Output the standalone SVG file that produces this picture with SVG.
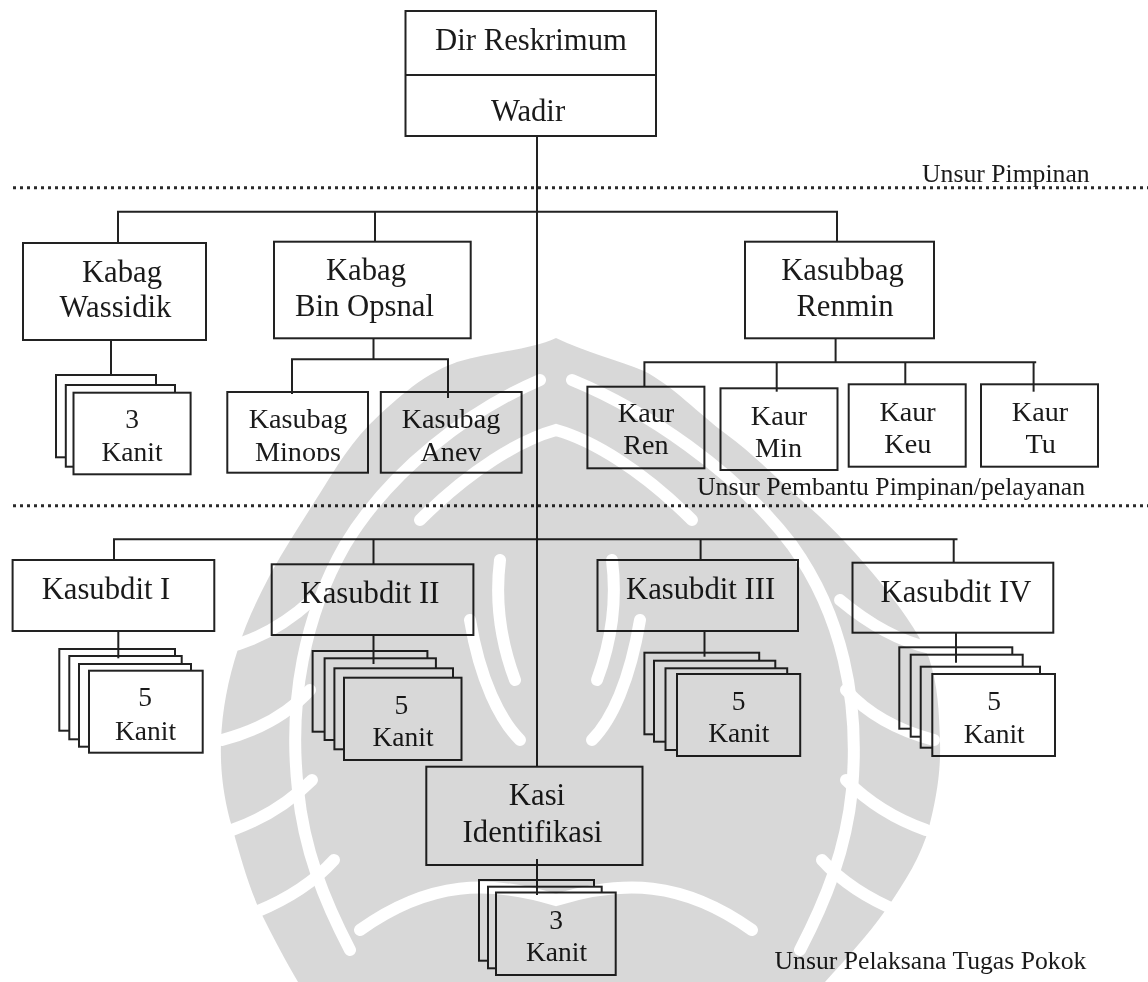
<svg xmlns="http://www.w3.org/2000/svg" width="1148" height="982" viewBox="0 0 1148 982">
<style>
.b{fill:#fff;stroke:#222;stroke-width:2}
.t{font-family:"Liberation Serif","Times New Roman",serif;font-size:30.7px;fill:#1a1a1a;text-anchor:middle}
.s{font-size:28.2px}
.k{font-size:27.5px}
.l{font-family:"Liberation Serif","Times New Roman",serif;font-size:25.7px;fill:#1a1a1a}
.c{fill:none;stroke:#222;stroke-width:2}
.d{fill:none;stroke:#2a2a2a;stroke-width:3;stroke-dasharray:3 4}
.wm{mix-blend-mode:multiply}
.g{fill:none;stroke:#fff;stroke-width:12;stroke-linecap:round}
</style>
<defs>
<clipPath id="clipMin"><rect x="220" y="390" width="160" height="71"/></clipPath>
<clipPath id="clipAnev"><rect x="375" y="390" width="150" height="71"/></clipPath>
</defs>
<rect width="1148" height="982" fill="#fff"/>

<g id="dir">
<rect class="b" x="405.5" y="11" width="250.5" height="125"/>
<line class="c" x1="405.5" y1="75" x2="656" y2="75"/>
<text class="t" x="531" y="50">Dir Reskrimum</text>
<text class="t" x="528" y="121">Wadir</text>
</g>

<g id="sep-labels">
<line class="d" x1="13" y1="187.7" x2="1148" y2="187.7"/>
<line class="d" x1="13" y1="505.7" x2="1148" y2="505.7"/>
<text class="l" x="922" y="181.5">Unsur Pimpinan</text>
<text class="l" x="697" y="495">Unsur Pembantu Pimpinan/pelayanan</text>
<text class="l" x="774.5" y="969">Unsur Pelaksana Tugas Pokok</text>
</g>

<g id="wassidik">
<rect class="b" x="23" y="243" width="183" height="97"/>
<text class="t" x="122" y="281.5">Kabag</text>
<text class="t" x="115.5" y="316.5">Wassidik</text>
</g>
<g id="binopsnal">
<rect class="b" x="274" y="241.7" width="196.7" height="96.6"/>
<text class="t" x="366" y="280">Kabag</text>
<text class="t" x="364.5" y="315.5">Bin Opsnal</text>
</g>
<g id="renmin">
<rect class="b" x="745" y="241.7" width="189" height="96.6"/>
<text class="t" x="842.5" y="279.5">Kasubbag</text>
<text class="t" x="845" y="316">Renmin</text>
</g>

<g id="kanit-wassidik">
<rect class="b" x="56" y="375" width="100" height="82.3"/>
<rect class="b" x="65.8" y="385" width="109.2" height="81.7"/>
<rect class="b" x="73.5" y="392.7" width="117.1" height="81.6"/>
<text class="t k" x="132" y="428.3">3</text>
<text class="t k" x="132" y="460.7">Kanit</text>
</g>

<g id="minops">
<rect class="b" x="227.3" y="392" width="140.7" height="80.7"/>
<text class="t s" x="298" y="428">Kasubag</text>
<text class="t s" x="298" y="461" clip-path="url(#clipMin)">Minops</text>
</g>
<g id="anev">
<rect class="b" x="380.8" y="392" width="140.8" height="80.7"/>
<text class="t s" x="451" y="428">Kasubag</text>
<text class="t s" x="451" y="461" clip-path="url(#clipAnev)">Anev</text>
</g>

<g id="kaur-ren">
<rect class="b" x="587.4" y="386.7" width="117" height="81.6"/>
<text class="t s" x="646" y="422.3">Kaur</text>
<text class="t s" x="646" y="454.3">Ren</text>
</g>
<g id="kaur-min">
<rect class="b" x="720.5" y="388.3" width="117" height="81.7"/>
<text class="t s" x="779" y="425">Kaur</text>
<text class="t s" x="778.5" y="456.7">Min</text>
</g>
<g id="kaur-keu">
<rect class="b" x="848.7" y="384.3" width="117" height="82.4"/>
<text class="t s" x="907.6" y="420.7">Kaur</text>
<text class="t s" x="907.8" y="452.7">Keu</text>
</g>
<g id="kaur-tu">
<rect class="b" x="981" y="384.3" width="117" height="82.4"/>
<text class="t s" x="1040" y="420.7">Kaur</text>
<text class="t s" x="1040.7" y="452.7">Tu</text>
</g>

<g id="kasubdit1">
<rect class="b" x="12.6" y="560" width="201.7" height="71"/>
<text class="t" x="106" y="599.3">Kasubdit I</text>
</g>
<g id="kasubdit2">
<rect class="b" x="271.7" y="564.3" width="201.7" height="70.7"/>
<text class="t" x="370" y="602.7">Kasubdit II</text>
</g>
<g id="kasubdit3">
<rect class="b" x="597.5" y="560" width="200.5" height="71"/>
<text class="t" x="700.6" y="599.3">Kasubdit III</text>
</g>
<g id="kasubdit4">
<rect class="b" x="852.5" y="562.7" width="200.8" height="70"/>
<text class="t" x="956" y="601.7">Kasubdit IV</text>
</g>

<g id="kanit-1">
<rect class="b" x="59.3" y="649" width="115.7" height="81.7"/>
<rect class="b" x="69.3" y="656" width="112.4" height="83.3"/>
<rect class="b" x="79" y="664" width="112" height="82.7"/>
<rect class="b" x="89" y="670.7" width="113.7" height="82"/>
<text class="t k" x="145" y="705.7">5</text>
<text class="t k" x="145.5" y="740">Kanit</text>
</g>
<g id="kanit-2">
<rect class="b" x="312.6" y="651" width="114.8" height="80.7"/>
<rect class="b" x="324.6" y="658.3" width="111.3" height="81.7"/>
<rect class="b" x="334.4" y="668.3" width="118.6" height="81"/>
<rect class="b" x="344" y="677.7" width="117.5" height="82.3"/>
<text class="t k" x="401.4" y="714">5</text>
<text class="t k" x="403" y="746">Kanit</text>
</g>
<g id="kanit-3">
<rect class="b" x="644.4" y="652.7" width="114.8" height="81.6"/>
<rect class="b" x="654" y="660.7" width="121.3" height="81"/>
<rect class="b" x="665.5" y="668.3" width="121.7" height="81.7"/>
<rect class="b" x="677" y="674" width="123.2" height="82"/>
<text class="t k" x="738.5" y="710">5</text>
<text class="t k" x="738.8" y="741.7">Kanit</text>
</g>
<g id="kanit-4">
<rect class="b" x="899.3" y="647.3" width="113" height="81.4"/>
<rect class="b" x="910.7" y="654.7" width="112" height="82"/>
<rect class="b" x="920.7" y="666.7" width="119.3" height="81"/>
<rect class="b" x="932.3" y="674" width="122.7" height="82"/>
<text class="t k" x="994" y="710">5</text>
<text class="t k" x="994.2" y="742.7">Kanit</text>
</g>

<g id="kasi">
<rect class="b" x="426.3" y="766.7" width="216.2" height="98.3"/>
<text class="t" x="537" y="805">Kasi</text>
<text class="t" x="532.5" y="841.7">Identifikasi</text>
</g>
<g id="kanit-kasi">
<rect class="b" x="479" y="880" width="115" height="80.7"/>
<rect class="b" x="488" y="886.7" width="113.7" height="81.6"/>
<rect class="b" x="496" y="892.5" width="119.7" height="82.5"/>
<text class="t k" x="556" y="929">3</text>
<text class="t k" x="556.5" y="961">Kanit</text>
</g>

<g id="connectors">
<line class="c" x1="537" y1="136" x2="537" y2="767"/>
<polyline class="c" points="118,243 118,211.7 837,211.7 837,241.7"/>
<line class="c" x1="375" y1="211.7" x2="375" y2="241.7"/>
<line class="c" x1="111" y1="340" x2="111" y2="375"/>
<line class="c" x1="373.5" y1="338.3" x2="373.5" y2="359.3"/>
<polyline class="c" points="292,394 292,359.3 448,359.3 448,398"/>
<line class="c" x1="835.6" y1="338.3" x2="835.6" y2="362.3"/>
<polyline class="c" points="644.4,386.7 644.4,362.3 1036.2,362.3"/>
<line class="c" x1="776.7" y1="362.3" x2="776.7" y2="391.7"/>
<line class="c" x1="905.3" y1="362.3" x2="905.3" y2="384.3"/>
<line class="c" x1="1033.6" y1="362.3" x2="1033.6" y2="391.7"/>
<polyline class="c" points="114,560 114,539.3 957.5,539.3"/>
<line class="c" x1="373.5" y1="539.3" x2="373.5" y2="564.3"/>
<line class="c" x1="700.6" y1="539.3" x2="700.6" y2="560"/>
<line class="c" x1="953.7" y1="539.3" x2="953.7" y2="562.7"/>
<line class="c" x1="118.3" y1="631" x2="118.3" y2="658.3"/>
<line class="c" x1="373.5" y1="635" x2="373.5" y2="664"/>
<line class="c" x1="704.5" y1="631" x2="704.5" y2="656.7"/>
<line class="c" x1="956" y1="632.7" x2="956" y2="662.7"/>
<line class="c" x1="537" y1="859" x2="537" y2="895"/>
</g>

<g id="watermark" class="wm" opacity="0.9">
<path fill="#d4d4d4" d="M556 338 C530 350 490 352 457 362 C420 375 390 405 369 425 C345 450 330 478 315 501 C300 525 285 548 271 573 C257 600 246 622 238 649 C228 680 222 710 221 742 C220 772 224 800 232 827 C240 855 248 885 260 911 C272 935 285 960 298 982 L825 982 C845 960 868 935 885 911 C905 882 922 855 929 827 C936 800 941 772 940 742 C939 712 938 685 929 658 C918 630 898 605 880 582 C858 555 835 530 808 506 C780 482 755 455 726 434 C700 415 672 385 644 371 C618 360 585 352 556 338 Z"/>
<path class="g" d="M540 380 C470 410 390 470 345 545 C305 615 288 700 298 790 C304 850 324 900 350 950"/>
<path class="g" d="M572 380 C645 410 735 470 792 545 C842 615 860 700 852 790 C846 850 826 900 800 950"/>
<path class="g" d="M224 648 C260 640 290 620 312 600"/>
<path class="g" d="M222 740 C260 730 290 712 310 690"/>
<path class="g" d="M232 830 C266 818 292 800 312 780"/>
<path class="g" d="M256 912 C290 898 316 880 334 860"/>
<path class="g" d="M930 648 C894 640 864 620 840 600"/>
<path class="g" d="M934 740 C896 730 866 712 846 690"/>
<path class="g" d="M926 830 C892 818 866 800 846 780"/>
<path class="g" d="M900 912 C866 898 840 880 822 860"/>
<path class="g" d="M420 520 C470 470 520 440 556 430 C592 440 642 470 692 520"/>
<path class="g" d="M360 930 C430 880 490 880 556 900 C622 880 682 880 752 930"/>
<path class="g" d="M470 620 C480 680 500 720 520 740"/>
<path class="g" d="M640 620 C630 680 612 720 592 740"/>
<path class="g" d="M500 560 C495 600 500 640 515 680"/>
<path class="g" d="M612 560 C617 600 612 640 597 680"/>
</g>
</svg>
